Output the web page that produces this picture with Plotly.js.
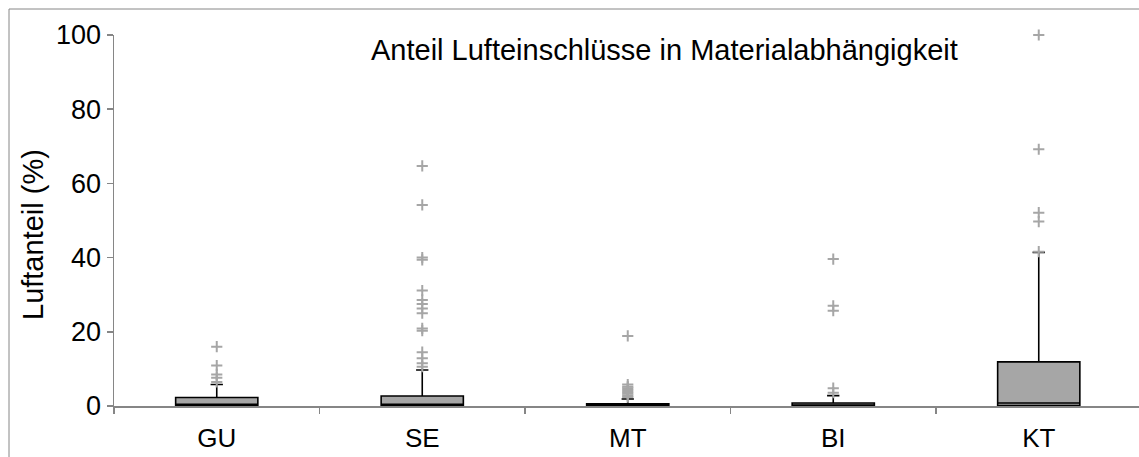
<!DOCTYPE html>
<html>
<head>
<meta charset="utf-8">
<script src="https://cdn.plot.ly/plotly-3.0.1.min.js"></script>
<style>html,body{margin:0;padding:0;background:#fff;}#chart{width:1139px;height:457px;}</style>
</head>
<body>
<div id="chart"></div>
<script>
// Categories and box statistics (Luftanteil in %)
const categories = ["GU", "SE", "MT", "BI", "KT"];
const q1Values     = [0.2, 0.2, 0.0, 0.0, 0.1];
const medianValues = [0.2, 0.2, 0.0, 0.0, 0.8];
const q3Values     = [2.3, 2.7, 0.6, 0.8, 11.9];
const lowerValues  = [0.0, 0.0, 0.0, 0.0, 0.0];
const upperValues  = [5.8, 9.7, 1.9, 2.8, 41.4];

// Outliers per category
const outliersGU = [16.0, 10.9, 8.5, 7.6, 6.5];
const outliersSE = [64.7, 54.2, 40.0, 39.4, 31.1, 28.6, 27.5, 26.3, 25.0, 20.9, 20.3, 14.5, 12.9, 11.5, 10.6];
const outliersMT = [18.9, 5.8, 5.2, 4.8, 4.3, 3.8, 3.3, 2.8, 2.4];
const outliersBI = [39.6, 27.0, 25.7, 4.8, 3.6];
const outliersKT = [100.0, 69.2, 52.1, 49.7, 41.6];

const titleText = "Anteil Lufteinschlüsse in Materialabhängigkeit";
const yTitleText = "Luftanteil (%)";
const yTicks = [0, 20, 40, 60, 80, 100];

const allOutliers = [outliersGU, outliersSE, outliersMT, outliersBI, outliersKT];

const boxTrace = {
  type: "box",
  x: categories,
  q1: q1Values,
  median: medianValues,
  q3: q3Values,
  lowerfence: lowerValues,
  upperfence: upperValues,
  width: 0.4,
  whiskerwidth: 0.15,
  fillcolor: "#a6a6a6",
  line: {color: "#000000", width: 1.6},
  boxpoints: false,
  hoverinfo: "skip",
  showlegend: false
};

const outX = [], outY = [];
allOutliers.forEach((arr, i) => arr.forEach(v => { outX.push(categories[i]); outY.push(v); }));

const outlierTrace = {
  type: "scatter",
  mode: "markers",
  x: outX,
  y: outY,
  cliponaxis: false,
  marker: {symbol: "cross-thin-open", size: 8, color: "#a6a6a6", line: {color: "#a6a6a6", width: 2}},
  hoverinfo: "skip",
  showlegend: false
};

const L = 114, T = 35, B = 51, W = 1139, H = 457;
const plotW = W - L;           // plot area runs to right edge (chart is cropped)
const plotH = H - T - B;
const pxPerCat = 205.5;
const xEnd = -0.5 + plotW / pxPerCat;

function px2x(p) { return (p - L) / plotW; }
function px2y(p) { return (H - B - p) / plotH; }

const layout = {
  width: W, height: H,
  margin: {l: L, r: 0, t: T, b: B, pad: 0},
  paper_bgcolor: "#ffffff",
  plot_bgcolor: "#ffffff",
  font: {family: "Liberation Sans, Arial, sans-serif", size: 27, color: "#000000"},
  showlegend: false,
  xaxis: {
    type: "category",
    categoryorder: "array",
    categoryarray: categories,
    range: [-0.5, xEnd],
    showline: true, linecolor: "#868686", linewidth: 1.5,
    ticks: "outside", tickson: "boundaries", ticklen: 6, tickcolor: "#868686", tickwidth: 1.5,
    showgrid: false, zeroline: false,
    ticklabelstandoff: 8,
    tickfont: {size: 26, color: "#000000"},
    fixedrange: true
  },
  yaxis: {
    range: [0, 100],
    tickvals: yTicks,
    ticktext: yTicks.map(String),
    showline: true, linecolor: "#868686", linewidth: 1.5,
    ticks: "outside", ticklen: 6, tickcolor: "#868686", tickwidth: 1.5,
    showgrid: false, zeroline: false,
    ticklabelstandoff: 0,
    tickfont: {size: 27, color: "#000000"},
    fixedrange: true
  },
  annotations: [
    {text: titleText, xref: "paper", yref: "paper", x: px2x(664.5), y: px2y(50),
     xanchor: "center", yanchor: "middle", showarrow: false, font: {size: 29, color: "#000000"}},
    {text: yTitleText, xref: "paper", yref: "paper", x: px2x(33), y: px2y(235),
     xanchor: "center", yanchor: "middle", textangle: -90, showarrow: false, font: {size: 29, color: "#000000"}}
  ],
  shapes: [
    {type: "rect", xref: "paper", yref: "paper", x0: px2x(9), x1: px2x(1200), y0: px2y(520), y1: px2y(9),
     line: {color: "#868686", width: 1}, fillcolor: "rgba(0,0,0,0)", layer: "below"}
  ]
};

Plotly.newPlot("chart", [boxTrace, outlierTrace], layout, {staticPlot: true, displayModeBar: false});
</script>
</body>
</html>
